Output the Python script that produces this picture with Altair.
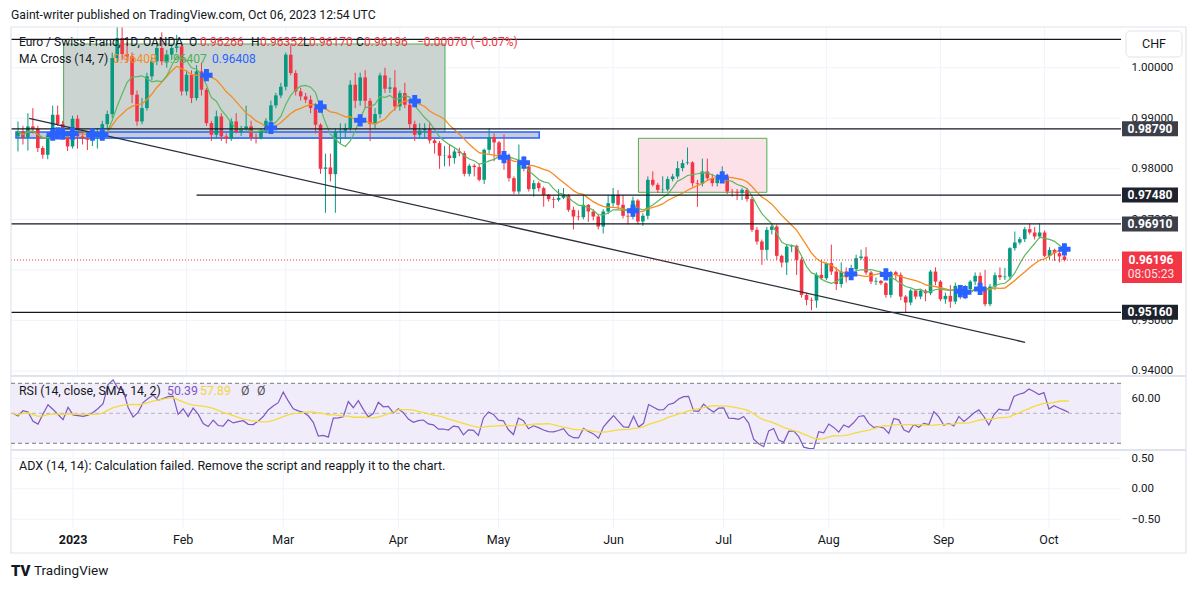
import altair as alt
import pandas as pd
import numpy as np

# ---------------- data ----------------
first_open = 0.98640
closes = [0.98739, 0.98620, 0.98838, 0.98792, 0.98409, 0.98277, 0.98660, 0.99069, 0.98884, 0.98673,
          0.98442, 0.98990, 0.98640, 0.98607, 0.98574, 0.98620, 0.98726, 0.98884, 0.99082, 1.00191,
          1.00587, 1.00270, 1.00224, 0.99465, 0.98937, 0.99201, 0.99828, 1.00125, 1.00389, 1.00125,
          1.00257, 1.00389, 1.00422, 0.99531, 0.99861, 0.99399, 0.99927, 0.99564, 0.98904, 0.98673,
          0.99036, 0.98640, 0.98594, 0.98937, 0.98726, 0.98792, 0.98838, 0.98620, 0.98607, 0.98752,
          0.98950, 0.99254, 0.99452, 0.99623, 1.00257, 0.99894, 0.99531, 0.99432, 0.99366, 0.99201,
          0.98871, 0.97999, 0.98026, 0.97894, 0.98739, 0.98752, 0.98805, 0.99663, 0.99346, 0.99808,
          0.99346, 0.98884, 0.99082, 0.99848, 0.99584, 0.99610, 0.99234, 0.99498, 0.99267, 0.98884,
          0.98673, 0.98759, 0.98786, 0.98561, 0.98508, 0.98258, 0.98264, 0.98211, 0.98343, 0.98310,
          0.97901, 0.98060, 0.98033, 0.97782, 0.98376, 0.98627, 0.98522, 0.98277, 0.98244, 0.97815,
          0.97551, 0.98178, 0.98046, 0.97598, 0.97716, 0.97617, 0.97485, 0.97400, 0.97386, 0.97426,
          0.97479, 0.97188, 0.97056, 0.97043, 0.97287, 0.97155, 0.97056, 0.96858, 0.97155, 0.97320,
          0.97485, 0.97287, 0.97070, 0.97056, 0.97373, 0.96957, 0.97070, 0.97782, 0.97683, 0.97584,
          0.97591, 0.97796, 0.97848, 0.98013, 0.98112, 0.98126, 0.97716, 0.97703, 0.97947, 0.97815,
          0.97716, 0.97835, 0.97848, 0.97551, 0.97545, 0.97518, 0.97584, 0.97400, 0.96792, 0.96561,
          0.96396, 0.96792, 0.96858, 0.96278, 0.96146, 0.96462, 0.96476, 0.96198, 0.95505, 0.95406,
          0.95393, 0.95902, 0.95836, 0.96133, 0.95967, 0.95720, 0.95967, 0.95855, 0.96014, 0.96232,
          0.96264, 0.95948, 0.95769, 0.95783, 0.95736, 0.95505, 0.95954, 0.95901, 0.95472, 0.95354,
          0.95591, 0.95472, 0.95591, 0.95538, 0.95967, 0.95769, 0.95420, 0.95486, 0.95373, 0.95684,
          0.95486, 0.95618, 0.95769, 0.95882, 0.95657, 0.95321, 0.95670, 0.95895, 0.95855, 0.95868,
          0.96429, 0.96542, 0.96608, 0.96806, 0.96740, 0.96661, 0.96740, 0.96278, 0.96396, 0.96330,
          0.96266, 0.96196]
highs = [0.98937, 0.98850, 0.99100, 0.99200, 0.98850, 0.98450, 0.98700, 0.99250, 0.99250, 0.98950,
         0.98720, 0.99050, 0.99060, 0.98750, 0.98680, 0.98700, 0.98800, 0.98950, 0.99150, 1.00300,
         1.00830, 1.00820, 1.00500, 1.00300, 0.99550, 0.99400, 0.99900, 1.00200, 1.00500, 1.00700,
         1.00350, 1.00450, 1.00650, 1.00500, 0.99950, 0.99950, 1.00050, 1.00100, 0.99600, 0.98950,
         0.99150, 0.99100, 0.98700, 0.99000, 0.99100, 0.98850, 0.99250, 0.98950, 0.98700, 0.98800,
         0.99000, 0.99350, 0.99500, 0.99700, 1.00300, 1.00450, 0.99950, 0.99600, 0.99500, 0.99450,
         0.99300, 0.98900, 0.98300, 0.98300, 0.98800, 0.98900, 0.98900, 0.99750, 0.99900, 0.99900,
         0.99950, 0.99400, 0.99200, 0.99900, 1.00000, 0.99800, 0.99950, 0.99550, 0.99700, 0.99350,
         0.98950, 0.98900, 0.98900, 0.98900, 0.98600, 0.98550, 0.98450, 0.98480, 0.98400, 0.98420,
         0.98350, 0.98100, 0.98100, 0.98100, 0.98400, 0.98800, 0.98700, 0.98550, 0.98680, 0.98300,
         0.97850, 0.98480, 0.98250, 0.98100, 0.97780, 0.97750, 0.97650, 0.97500, 0.97450, 0.97600,
         0.97620, 0.97500, 0.97250, 0.97180, 0.97480, 0.97300, 0.97200, 0.97100, 0.97200, 0.97480,
         0.97620, 0.97580, 0.97480, 0.97120, 0.97450, 0.97400, 0.97120, 0.97850, 0.97950, 0.97720,
         0.97850, 0.97850, 0.97900, 0.98150, 0.98180, 0.98420, 0.98150, 0.97780, 0.98200, 0.98200,
         0.97900, 0.97900, 0.98050, 0.97900, 0.97600, 0.97600, 0.97620, 0.97620, 0.97450, 0.96850,
         0.96600, 0.96850, 0.96900, 0.96900, 0.96300, 0.96500, 0.96500, 0.96500, 0.96250, 0.95550,
         0.95450, 0.95950, 0.96200, 0.96150, 0.96500, 0.96050, 0.96150, 0.96050, 0.96100, 0.96300,
         0.96400, 0.96450, 0.95980, 0.95850, 0.95800, 0.95760, 0.95980, 0.95980, 0.95950, 0.95500,
         0.95620, 0.95620, 0.95620, 0.95620, 0.96000, 0.96050, 0.95800, 0.95550, 0.95700, 0.95750,
         0.95700, 0.95700, 0.95800, 0.95950, 0.95950, 0.96000, 0.95720, 0.95950, 0.96050, 0.96040,
         0.96450, 0.96760, 0.96650, 0.96850, 0.96920, 0.96850, 0.96920, 0.96780, 0.96450, 0.96420,
         0.96400, 0.96352]
lows = [0.98343, 0.98480, 0.98360, 0.98700, 0.98330, 0.98200, 0.98190, 0.98600, 0.98850, 0.98600,
        0.98350, 0.98400, 0.98400, 0.98480, 0.98370, 0.98450, 0.98400, 0.98650, 0.98800, 0.99000,
        1.00100, 1.00150, 1.00100, 0.99300, 0.98850, 0.98880, 0.99150, 0.99750, 1.00050, 1.00050,
        1.00000, 1.00150, 1.00300, 0.99450, 0.99450, 0.99300, 0.99350, 0.99450, 0.98850, 0.98550,
        0.98600, 0.98550, 0.98500, 0.98550, 0.98700, 0.98650, 0.98750, 0.98550, 0.98500, 0.98580,
        0.98700, 0.98900, 0.99200, 0.99400, 0.99550, 0.99850, 0.99450, 0.99350, 0.99300, 0.99100,
        0.98700, 0.97900, 0.97130, 0.97750, 0.97130, 0.98500, 0.98600, 0.98750, 0.99200, 0.99250,
        0.99200, 0.98550, 0.98800, 0.99000, 0.99500, 0.99500, 0.99150, 0.99150, 0.99200, 0.98800,
        0.98550, 0.98600, 0.98600, 0.98500, 0.98300, 0.98000, 0.98050, 0.98050, 0.98100, 0.98250,
        0.97850, 0.97850, 0.97850, 0.97750, 0.97700, 0.98300, 0.98150, 0.98200, 0.97980, 0.97750,
        0.97500, 0.97500, 0.97950, 0.97550, 0.97450, 0.97550, 0.97250, 0.97350, 0.97220, 0.97350,
        0.97400, 0.97150, 0.96800, 0.96980, 0.97000, 0.96950, 0.96980, 0.96800, 0.96720, 0.97100,
        0.97250, 0.97200, 0.97020, 0.96900, 0.97000, 0.96900, 0.96870, 0.97000, 0.97650, 0.97520,
        0.97520, 0.97550, 0.97750, 0.97800, 0.97950, 0.98080, 0.97650, 0.97250, 0.97650, 0.97780,
        0.97650, 0.97650, 0.97750, 0.97500, 0.97450, 0.97380, 0.97380, 0.97350, 0.96750, 0.96500,
        0.96100, 0.96200, 0.96700, 0.96200, 0.96050, 0.95900, 0.96350, 0.95900, 0.95450, 0.95300,
        0.95200, 0.95250, 0.95800, 0.95800, 0.95900, 0.95600, 0.95650, 0.95750, 0.95800, 0.95950,
        0.96200, 0.95900, 0.95720, 0.95700, 0.95700, 0.95450, 0.95450, 0.95800, 0.95400, 0.95150,
        0.95300, 0.95420, 0.95420, 0.95380, 0.95500, 0.95700, 0.95380, 0.95330, 0.95250, 0.95320,
        0.95420, 0.95420, 0.95550, 0.95700, 0.95600, 0.95280, 0.95280, 0.95600, 0.95800, 0.95800,
        0.95800, 0.96380, 0.96500, 0.96550, 0.96700, 0.96600, 0.96620, 0.96250, 0.96200, 0.96180,
        0.96150, 0.96170]

month_idx = [12, 34, 54, 77, 97, 120, 142, 163, 186, 207]
month_lbl = ["2023", "Feb", "Mar", "Apr", "May", "Jun", "Jul", "Aug", "Sep", "Oct"]
price_grid = [0.94, 0.95, 0.96, 0.97, 0.98, 0.99, 1.00]
price_labels = [0.94, 0.95, 0.97, 0.98, 0.99, 1.00]
levels_full = [1.00562, 0.98790, 0.96910, 0.95160]
level_part = [0.97480]
level_part_start = [36]
label_levels = [0.98790, 0.97480, 0.96910, 0.95160]
trend_i = [2.26, 203.06]
trend_p = [0.98999, 0.94568]
grey_box_i = [9.2, 86.1]
grey_box_p = [0.98607, 1.00469]
blue_box_i = [-0.4, 105.1]
blue_box_p = [0.98607, 0.98727]
pink_box_i = [125.1, 151.0]
pink_box_p = [0.97535, 0.98603]
rsi_levels = [70, 30]
rsi_mid = [50]
rsi_ticks = [60]
adx_ticks = [0.5, 0.0, -0.5]

# ---------------- derived tables ----------------
n = len(closes)
opens = [first_open] + closes[:-1]
df = pd.DataFrame({"i": np.arange(n), "o": opens, "h": highs, "l": lows, "c": closes})
cs = pd.Series(closes)
df["ma14"] = cs.rolling(14, min_periods=1).mean()
df["ma7"] = cs.rolling(7, min_periods=1).mean()

d = cs.diff().fillna(0.0)
g = d.clip(lower=0).values
lo = (-d).clip(lower=0).values
seed = float(d.abs().iloc[1:15].mean()) / 2
ag, al = seed, seed
rsi = []
for k in range(n):
    if k > 0:
        ag = (ag * 13 + g[k]) / 14
        al = (al * 13 + lo[k]) / 14
    rsi.append(100 - 100 / (1 + ag / al))
df["rsi"] = rsi
df["rsima"] = pd.Series(rsi).rolling(14, min_periods=1).mean()

sgn = np.sign(df["ma7"] - df["ma14"]).values
cross_rows = [k for k in range(2, n) if sgn[k] != 0 and sgn[k] != sgn[k - 1]]
if sgn[-1] == 0 or abs(df["ma7"].iloc[-1] - df["ma14"].iloc[-1]) < 3e-5:
    cross_rows.append(n - 1)
crosses = df.loc[sorted(set(cross_rows)), ["i", "ma14"]]

months = pd.DataFrame({"i": month_idx, "lbl": month_lbl})

# ---------------- styling ----------------
W, H1, H2, H3 = 1110, 349, 74, 78
FONT = "Roboto"
TXT = "#131722"
GREEN = "#089981"
RED = "#f23645"
XS = alt.Scale(domain=[-0.4, 221.4], nice=False, zero=False)
YP = alt.Scale(domain=[0.93901, 1.00805], nice=False, zero=False)
YR = alt.Scale(domain=[25.53, 74.87], nice=False, zero=False)
YA = alt.Scale(domain=[-0.643, 0.636], nice=False, zero=False)
one = pd.DataFrame({"a": [0]})


def right_axis(values, fmt, grid=True):
    return alt.Axis(orient="right", values=values, format=fmt, grid=grid, gridColor="#f0f3fa",
                    domain=False, ticks=False, tickSize=0, labelPadding=10, labelFont=FONT,
                    labelFontSize=11.5, labelColor=TXT, title=None, labelOverlap=False,
                    labelBound=False, labelFlush=False)


AX1 = right_axis(price_labels, ".5f", grid=False)
AX2 = right_axis(rsi_ticks, ".2f")
AX3 = right_axis(adx_ticks, ".2f", grid=False)


def X(field="i"):
    return alt.X(f"{field}:Q", scale=XS, axis=None)


def Y1(field):
    return alt.Y(f"{field}:Q", scale=YP, axis=AX1)


def Y2(field):
    return alt.Y(f"{field}:Q", scale=YR, axis=AX2)


def label(text, x, y, color=TXT, size=12, weight="normal"):
    return alt.Chart(pd.DataFrame({"t": [text]})).mark_text(
        align="left", baseline="middle", font=FONT, fontSize=size, fontWeight=weight, color=color
    ).encode(x=alt.value(x), y=alt.value(y), text="t:N")


def ctext(text, x, y, color, size=12, weight="normal"):
    return alt.Chart(pd.DataFrame({"t": [text]})).mark_text(
        align="center", baseline="middle", font=FONT, fontSize=size, fontWeight=weight, color=color
    ).encode(x=alt.value(x), y=alt.value(y), text="t:N")


def box(ii, pp, fill, stroke, sw=1):
    bdf = pd.DataFrame({"i0": [ii[0]], "i1": [ii[1]], "p0": [pp[0]], "p1": [pp[1]]})
    return alt.Chart(bdf).mark_rect(fill=fill, stroke=stroke, strokeWidth=sw, clip=True).encode(
        x=X("i0"), x2="i1:Q", y=Y1("p0"), y2="p1:Q")


grid_rule = alt.Chart(months).mark_rule(color="#f0f3fa", strokeWidth=1).encode(x=X())
updown = alt.condition("datum.c >= datum.o", alt.value(GREEN), alt.value(RED))

# ---------------- main pane ----------------
hgrid = alt.Chart(pd.DataFrame({"p": price_grid})).mark_rule(color="#f0f3fa", strokeWidth=1).encode(
    x=alt.value(0), x2=alt.value(W), y=Y1("p"))
wicks = alt.Chart(df).mark_rule(strokeWidth=1, clip=True).encode(
    x=X(), y=Y1("l"), y2="h:Q", color=updown)
bodies = alt.Chart(df).mark_bar(size=3.6, clip=True).encode(
    x=X(), y=Y1("o"), y2="c:Q", color=updown)
ma14 = alt.Chart(df).mark_line(color="#f68b1f", strokeWidth=1.3, clip=True).encode(
    x=X(), y=Y1("ma14"))
ma7 = alt.Chart(df).mark_line(color="#5cb85f", strokeWidth=1.2, clip=True).encode(
    x=X(), y=Y1("ma7"))
cross_pts = alt.Chart(crosses).mark_point(shape="cross", filled=True, size=150, color="#2962ff",
                                          opacity=1, clip=True).encode(x=X(), y=Y1("ma14"))

lv_full = alt.Chart(pd.DataFrame({"p": levels_full})).mark_rule(color=TXT, strokeWidth=1.3).encode(
    x=alt.value(0), x2=alt.value(W), y=Y1("p"))
lv_part = alt.Chart(pd.DataFrame({"p": level_part, "i": level_part_start})).mark_rule(
    color=TXT, strokeWidth=1.3).encode(x=X(), x2=alt.value(W), y=Y1("p"))
trend = alt.Chart(pd.DataFrame({"i": trend_i, "p": trend_p})).mark_line(
    color="#2a2e39", strokeWidth=1.3).encode(x=X(), y=Y1("p"))
last_line = alt.Chart(pd.DataFrame({"p": [closes[-1]]})).mark_rule(
    color=RED, strokeWidth=1, strokeDash=[1, 2]).encode(
    x=alt.value(0), x2=alt.value(W), y=Y1("p"))

lbl_df = pd.DataFrame({"p": label_levels, "t": [f"{v:.5f}" for v in label_levels]})
lbl_boxes = alt.Chart(lbl_df).mark_rect(yOffset=-7.5, y2Offset=7.5).encode(
    x=alt.value(1111), x2=alt.value(1167), y=Y1("p"), y2="p:Q",
    color=alt.condition("datum.p == 0.9879 || datum.p == 0.9691", alt.value("#3c3f4a"),
                        alt.value("#1e222d")))
lbl_text = alt.Chart(lbl_df).mark_text(font=FONT, fontSize=12, fontWeight="bold", color="white",
                                       align="center", baseline="middle").encode(
    x=alt.value(1139), y=Y1("p"), text="t:N")
last_df = pd.DataFrame({"p": [closes[-1]], "t": [f"{closes[-1]:.5f}"], "t2": ["08:05:23"]})
red_box = alt.Chart(last_df).mark_rect(yOffset=-8.5, y2Offset=23, color=RED).encode(
    x=alt.value(1111), x2=alt.value(1171), y=Y1("p"), y2="p:Q")
red_t1 = alt.Chart(last_df).mark_text(font=FONT, fontSize=12, fontWeight="bold", color="white",
                                      align="center", baseline="middle").encode(
    x=alt.value(1140), y=Y1("p"), text="t:N")
red_t2 = alt.Chart(last_df).mark_text(font=FONT, fontSize=12, color="#fde2e4", dy=14,
                                      align="center", baseline="middle").encode(
    x=alt.value(1140), y=Y1("p"), text="t2:N")

chf_box = alt.Chart(one).mark_rect(fill="white", stroke="#e0e3eb", strokeWidth=1, cornerRadius=4).encode(
    x=alt.value(1115), x2=alt.value(1171), y=alt.value(4), y2=alt.value(30))
chf_txt = ctext("CHF", 1143, 17, TXT, size=12.5)
frame = alt.Chart(one).mark_rect(fill="white", fillOpacity=0, stroke="#e0e3eb", strokeWidth=1.2).encode(
    x=alt.value(0), x2=alt.value(1175), y=alt.value(0), y2=alt.value(526))

o_l, h_l, l_l, c_l = opens[-1], highs[-1], lows[-1], closes[-1]
chg = c_l - o_l
legend1 = [
    label("Euro / Swiss Franc, 1D, OANDA", 8, 15),
    label("O", 178, 15), label(f"{o_l:.5f}", 189, 15, RED),
    label("H", 240, 15), label(f"{h_l:.5f}", 249, 15, RED),
    label("L", 292, 15), label(f"{l_l:.5f}", 298, 15, RED),
    label("C", 345, 15), label(f"{c_l:.5f}", 353, 15, RED),
    label(f"\u2212{abs(chg):.5f} (\u2212{abs(chg) / o_l * 100:.2f}%)", 406, 15, RED),
    label("MA Cross (14, 7)", 8, 32),
    label("0.96408", 102, 32, "#f68b1f"),
    label("0.96407", 152, 32, "#4caf50"),
    label("0.96408", 201, 32, "#2962ff"),
]
title = label("Gaint-writer published on TradingView.com, Oct 06, 2023 12:54 UTC", 0, -12.5, size=12.2)

p1 = alt.layer(
    grid_rule, hgrid,
    box(grey_box_i, grey_box_p, "#ccd4d2", "#4caf50"),
    box(blue_box_i, blue_box_p, "#c6cdd9", "#2962ff", 1.5),
    box(pink_box_i, pink_box_p, "#fce1e8", "#4caf50"),
    wicks, bodies, ma14, ma7, lv_full, lv_part, trend, last_line, cross_pts,
    lbl_boxes, lbl_text, red_box, red_t1, red_t2, chf_box, chf_txt,
    *legend1, title, frame,
).properties(width=W, height=H1)

# ---------------- RSI pane ----------------
band = alt.Chart(pd.DataFrame({"a": [rsi_levels[1]], "b": [rsi_levels[0]]})).mark_rect(
    color="#f0ecf9").encode(x=alt.value(0), x2=alt.value(W), y=Y2("a"), y2="b:Q")
rsi_lv = alt.Chart(pd.DataFrame({"v": rsi_levels})).mark_rule(
    color="#787b86", strokeDash=[4, 3], strokeWidth=1).encode(
    x=alt.value(0), x2=alt.value(W), y=Y2("v"))
rsi_md = alt.Chart(pd.DataFrame({"v": rsi_mid})).mark_rule(
    color="#b2b5be", strokeDash=[4, 3], strokeWidth=1).encode(
    x=alt.value(0), x2=alt.value(W), y=Y2("v"))
rsi_line = alt.Chart(df).mark_line(color="#7e57c2", strokeWidth=1.2, clip=True).encode(
    x=X(), y=Y2("rsi"))
rsi_ma = alt.Chart(df).mark_line(color="#f5dc3c", strokeWidth=1.3, clip=True).encode(
    x=X(), y=Y2("rsima"))
sep = alt.Chart(one).mark_rule(color="#e0e3eb", strokeWidth=2).encode(
    x=alt.value(0), x2=alt.value(1175), y=alt.value(0))
legend2 = [
    label("RSI (14, close, SMA, 14, 2)", 8, 15, size=12.3),
    label("50.39", 156, 15, "#7e57c2", size=12.3),
    label("57.89", 189, 15, "#f2d43d", size=12.3),
    label("\u00d8", 230, 15, "#50535e", size=12.3),
    label("\u00d8", 246, 15, "#50535e", size=12.3),
]
p2 = alt.layer(grid_rule, band, rsi_md, rsi_lv, rsi_line, rsi_ma, *legend2, sep).properties(
    width=W, height=H2)

# ---------------- ADX pane + time axis ----------------
adx_grid = alt.Chart(pd.DataFrame({"v": adx_ticks})).mark_rule(color="#f0f3fa").encode(
    x=alt.value(0), x2=alt.value(W), y=alt.Y("v:Q", scale=YA, axis=AX3))
adx_txt = label("ADX (14, 14): Calculation failed. Remove the script and reapply it to the chart.", 8, 16,
                size=12.5)
m_txt = alt.Chart(months).mark_text(font=FONT, fontSize=12.5, color=TXT, align="center",
                                    baseline="middle").encode(
    x=X(), y=alt.value(90), text="lbl:N").transform_filter("datum.lbl != '2023'")
y_txt = alt.Chart(months).mark_text(font=FONT, fontSize=12.5, fontWeight="bold", color=TXT,
                                    align="center", baseline="middle").encode(
    x=X(), y=alt.value(90), text="lbl:N").transform_filter("datum.lbl == '2023'")
logo1 = label("TV", 0, 121, TXT, size=15, weight=900)
logo2 = label("TradingView", 23, 121, TXT, size=13.5)
p3 = alt.layer(grid_rule, adx_grid, adx_txt, sep, m_txt, y_txt, logo1, logo2).properties(
    width=W, height=H3)

chart = alt.vconcat(p1, p2, p3, spacing=0, bounds="flush").properties(
    padding={"left": 2, "top": 0, "right": 0, "bottom": 0}, background="white"
).configure_view(strokeWidth=0)

chart.save("out.html", embed_options={"renderer": "svg", "actions": False})
